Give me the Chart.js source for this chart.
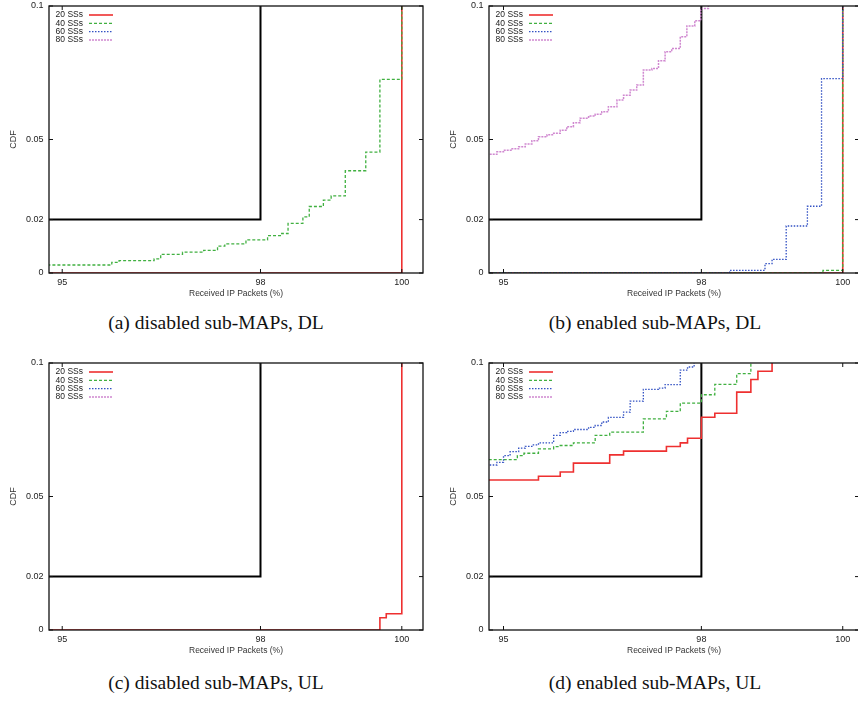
<!DOCTYPE html>
<html>
<head>
<meta charset="utf-8">
<script src="https://cdn.jsdelivr.net/npm/chart.js@4.4.0/dist/chart.umd.min.js"></script>
<style>
  html, body { margin: 0; padding: 0; background: #fff; width: 858px; height: 702px; overflow: hidden; }
  canvas { position: absolute; }
  .cap {
    position: absolute; width: 440px; text-align: center; line-height: 1;
    font-family: "Liberation Serif", "Times New Roman", serif; font-size: 19.5px; color: #111;
  }
</style>
</head>
<body>
<canvas id="cA" width="430" height="300" style="left:0;top:0"></canvas>
<canvas id="cB" width="420" height="300" style="left:440px;top:0"></canvas>
<canvas id="cC" width="430" height="300" style="left:0;top:357px"></canvas>
<canvas id="cD" width="420" height="300" style="left:440px;top:357px"></canvas>

<div class="cap" style="left:-4px;top:313px">(a) disabled sub-MAPs, DL</div>
<div class="cap" style="left:435px;top:313px">(b) enabled sub-MAPs, DL</div>
<div class="cap" style="left:-4px;top:673px">(c) disabled sub-MAPs, UL</div>
<div class="cap" style="left:435px;top:673px">(d) enabled sub-MAPs, UL</div>

<script>
/* ---- Dados ---- */
const seriesLabels = ['20 SSs', '40 SSs', '60 SSs', '80 SSs'];
const xTicks = [95, 98, 100];
const yTicks = [0, 0.02, 0.05, 0.1];

// black break-box (from the left edge to 98, then up)
const boxX = [94.7, 98, 98];
const boxY = [0.02, 0.02, 0.1];

// (a) disabled sub-MAPs, DL
const dlOffX20 = [94.7, 100];
const dlOffY20 = [0, 0.1];
const dlOffX40 = [94.7, 95.75, 95.86, 96.39, 96.49, 96.82, 97.14, 97.35, 97.46, 97.78, 98.10,
                  98.30, 98.39, 98.60, 98.69, 98.89, 99.00, 99.20, 99.49, 99.69, 100];
const dlOffY40 = [0.0030, 0.0040, 0.0046, 0.0053, 0.0070, 0.0078, 0.0085, 0.0101, 0.0109, 0.0124, 0.0140,
                  0.0148, 0.0186, 0.0210, 0.0249, 0.0273, 0.0289, 0.0383, 0.0453, 0.0725, 0.1];
const dlOffX60 = [];
const dlOffY60 = [];
const dlOffX80 = [];
const dlOffY80 = [];

// (b) enabled sub-MAPs, DL
const dlOnX20 = [94.7, 100];
const dlOnY20 = [0, 0.1];
const dlOnX40 = [94.7, 99.72, 100];
const dlOnY40 = [0, 0.0010, 0.1];
const dlOnX60 = [94.7, 98.40, 98.90, 99.00, 99.20, 99.50, 99.70, 100];
const dlOnY60 = [0, 0.0010, 0.0035, 0.0051, 0.0176, 0.0250, 0.0728, 0.1];
const dlOnX80 = [94.7, 94.90, 95.00, 95.13, 95.23, 95.33, 95.43, 95.53, 95.66, 95.76, 95.86,
                 95.96, 96.06, 96.16, 96.29, 96.39, 96.49, 96.59, 96.72, 96.82, 96.92, 97.02,
                 97.12, 97.25, 97.35, 97.45, 97.55, 97.68, 97.78, 97.90, 97.99, 98.10];
const dlOnY80 = [0.0445, 0.0454, 0.0460, 0.0465, 0.0473, 0.0483, 0.0495, 0.0510, 0.0518, 0.0523, 0.0535,
                 0.0548, 0.0563, 0.0580, 0.0588, 0.0595, 0.0604, 0.0623, 0.0648, 0.0666, 0.0685, 0.0704,
                 0.0760, 0.0766, 0.0795, 0.0829, 0.0841, 0.0885, 0.0925, 0.0945, 0.0991, 0.1];

// (c) disabled sub-MAPs, UL
const ulOffX20 = [94.7, 99.69, 99.78, 100];
const ulOffY20 = [0, 0.0046, 0.0061, 0.1];
const ulOffX40 = [];
const ulOffY40 = [];
const ulOffX60 = [];
const ulOffY60 = [];
const ulOffX80 = [];
const ulOffY80 = [];

// (d) enabled sub-MAPs, UL
const ulOnX20 = [94.7, 95.53, 95.86, 96.06, 96.61, 96.82, 97.47, 97.68, 97.79, 98.00,
                 98.19, 98.50, 98.70, 98.80, 99.00];
const ulOnY20 = [0.0562, 0.0576, 0.0592, 0.0625, 0.0656, 0.0670, 0.0687, 0.0701, 0.0718, 0.0797,
                 0.0812, 0.0891, 0.0938, 0.0969, 0.1];
const ulOnX40 = [94.7, 95.21, 95.31, 95.53, 95.76, 95.86, 96.06, 96.39, 96.61, 97.12, 97.47,
                 97.68, 98.00, 98.19, 98.50, 98.70];
const ulOnY40 = [0.0638, 0.0653, 0.0662, 0.0678, 0.0687, 0.0691, 0.0701, 0.0729, 0.0741, 0.0791, 0.0819,
                 0.0850, 0.0881, 0.0920, 0.0960, 0.1];
const ulOnX60 = [94.7, 94.90, 95.00, 95.10, 95.23, 95.33, 95.43, 95.53, 95.76, 95.86, 95.96, 96.06,
                 96.29, 96.39, 96.49, 96.59, 96.82, 96.92, 97.12, 97.35, 97.45, 97.68, 97.79, 97.89];
const ulOnY60 = [0.0618, 0.0628, 0.0653, 0.0668, 0.0681, 0.0688, 0.0693, 0.0701, 0.0729, 0.0739, 0.0744, 0.0751,
                 0.0759, 0.0766, 0.0779, 0.0796, 0.0816, 0.0857, 0.0901, 0.0906, 0.0919, 0.0973, 0.0985, 0.1];
const ulOnX80 = [];
const ulOnY80 = [];

/* ---- Estilo ---- */
const FONT = '"Liberation Sans", Arial, sans-serif';
const seriesStyle = [
  { color: '#ee3030', width: 1.6, dash: [] },
  { color: '#40b040', width: 1.3, dash: [3, 2] },
  { color: '#3352c4', width: 1.3, dash: [1.5, 1.5] },
  { color: '#d088d0', width: 1.5, dash: [2, 1] }
];

/* ---- Eixo x com quebra em 98 (escala linear por partes) ---- */
class BrokenScale extends Chart.LinearScale {
  getPixelForValue(value) {
    if (value === null || value === undefined) return NaN;
    const { min, max } = this;
    const brk = this.options.brk, frac = this.options.brkFrac;
    const d = value <= brk
      ? (value - min) / (brk - min) * frac
      : frac + (value - brk) / (max - brk) * (1 - frac);
    return this.getPixelForDecimal(d);
  }
  getValueForPixel(pixel) {
    const d = this.getDecimalForPixel(pixel);
    const { min, max } = this;
    const brk = this.options.brk, frac = this.options.brkFrac;
    return d <= frac ? min + d / frac * (brk - min) : brk + (d - frac) / (1 - frac) * (max - brk);
  }
}
BrokenScale.id = 'broken';
BrokenScale.defaults = Chart.LinearScale.defaults;
Chart.register(BrokenScale);

/* ---- Moldura + ticks para dentro (estilo gnuplot) ---- */
const framePlugin = {
  id: 'frame',
  afterDatasetsDraw(chart) {
    const { ctx, chartArea: a, scales: { x, y } } = chart;
    ctx.save();
    ctx.strokeStyle = '#111';
    ctx.lineWidth = 1.3;
    ctx.strokeRect(a.left, a.top, a.right - a.left, a.bottom - a.top);
    ctx.lineWidth = 1;
    ctx.beginPath();
    x.ticks.forEach(t => {
      const px = x.getPixelForValue(t.value);
      ctx.moveTo(px, a.bottom); ctx.lineTo(px, a.bottom - 4);
      ctx.moveTo(px, a.top);    ctx.lineTo(px, a.top + 4);
    });
    y.ticks.forEach(t => {
      const py = y.getPixelForValue(t.value);
      ctx.moveTo(a.left, py);  ctx.lineTo(a.left + 4, py);
      ctx.moveTo(a.right, py); ctx.lineTo(a.right - 4, py);
    });
    ctx.stroke();
    ctx.restore();
  }
};

/* ---- Legenda dentro do gráfico (texto à esquerda, amostra à direita) ---- */
const keyPlugin = {
  id: 'key',
  afterDatasetsDraw(chart) {
    const { ctx, chartArea: a } = chart;
    const items = chart.data.datasets.filter(d => d.label);
    ctx.save();
    ctx.font = `8.5px ${FONT}`;
    ctx.fillStyle = '#222';
    ctx.textAlign = 'right';
    ctx.textBaseline = 'middle';
    items.forEach((d, i) => {
      const yy = a.top + 9 + i * 8.33;
      ctx.fillText(d.label, a.left + 34, yy);
      ctx.beginPath();
      ctx.strokeStyle = d.borderColor;
      ctx.lineWidth = d.borderWidth;
      ctx.setLineDash(d.borderDash);
      ctx.moveTo(a.left + 40, yy);
      ctx.lineTo(a.left + 64, yy);
      ctx.stroke();
    });
    ctx.restore();
  }
};

/* ---- Monta um painel ---- */
function renderPanel(canvasId, xs, ys, xr) {
  const datasets = seriesLabels.map((label, i) => ({
    label,
    data: xs[i].map((x, j) => ({ x, y: ys[i][j] })),
    borderColor: seriesStyle[i].color,
    borderWidth: seriesStyle[i].width,
    borderDash: seriesStyle[i].dash,
    stepped: true,
    pointRadius: 0,
    fill: false,
    order: 4 - i
  }));
  datasets.push({
    data: boxX.map((x, j) => ({ x, y: boxY[j] })),
    borderColor: '#000',
    borderWidth: 2,
    pointRadius: 0,
    fill: false,
    order: 10
  });

  return new Chart(document.getElementById(canvasId), {
    type: 'line',
    data: { datasets },
    options: {
      responsive: false,
      animation: false,
      events: [],
      layout: { autoPadding: false, padding: { top: 6, right: xr.padRight, bottom: 0, left: 0 } },
      plugins: { legend: { display: false }, tooltip: { enabled: false } },
      scales: {
        x: {
          type: 'broken',
          min: xr.min, max: xr.max, brk: 98, brkFrac: xr.frac,
          afterBuildTicks: s => { s.ticks = xTicks.map(v => ({ value: v })); },
          afterFit: s => { s.height = 27; s.paddingLeft = 0; s.paddingRight = 0; },
          grid: { display: false, drawTicks: false },
          border: { display: false },
          ticks: { font: { family: FONT, size: 9 }, color: '#222', padding: 4,
                   maxRotation: 0, autoSkip: false, callback: v => String(v) },
          title: { display: true, text: 'Received IP Packets (%)', color: '#333',
                   font: { family: FONT, size: 8.5 }, padding: { top: 0, bottom: 1 } }
        },
        y: {
          type: 'linear',
          min: 0, max: 0.1,
          afterBuildTicks: s => { s.ticks = yTicks.map(v => ({ value: v })); },
          afterFit: s => { s.width = 49; s.paddingTop = 0; s.paddingBottom = 0; },
          grid: { display: false, drawTicks: false },
          border: { display: false },
          ticks: { font: { family: FONT, size: 9 }, color: '#222', padding: 5.5,
                   autoSkip: false, callback: v => String(v) },
          title: { display: true, text: 'CDF', color: '#333',
                   font: { family: FONT, size: 9 }, padding: { top: 8, bottom: 0 } }
        }
      }
    },
    plugins: [framePlugin, keyPlugin]
  });
}

/* ---- Init ---- */
const rangeLeft  = { min: 94.80, max: 100.30, frac: 0.5655, padRight: 7 };
const rangeRight = { min: 94.78, max: 100.23, frac: 0.574,  padRight: 1 };

renderPanel('cA',
  [dlOffX20, dlOffX40, dlOffX60, dlOffX80], [dlOffY20, dlOffY40, dlOffY60, dlOffY80], rangeLeft);
renderPanel('cB',
  [dlOnX20, dlOnX40, dlOnX60, dlOnX80], [dlOnY20, dlOnY40, dlOnY60, dlOnY80], rangeRight);
renderPanel('cC',
  [ulOffX20, ulOffX40, ulOffX60, ulOffX80], [ulOffY20, ulOffY40, ulOffY60, ulOffY80], rangeLeft);
renderPanel('cD',
  [ulOnX20, ulOnX40, ulOnX60, ulOnX80], [ulOnY20, ulOnY40, ulOnY60, ulOnY80], rangeRight);
</script>
</body>
</html>
